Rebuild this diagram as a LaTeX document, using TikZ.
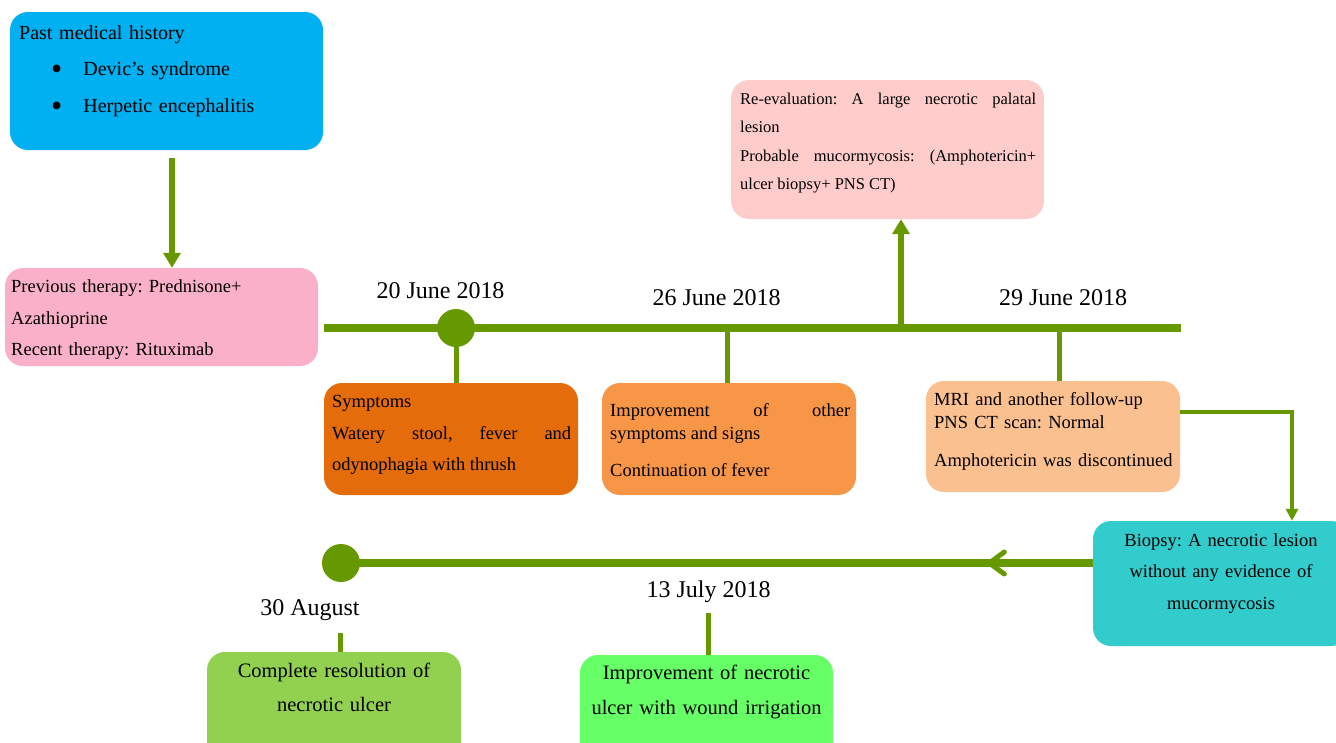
\documentclass[tikz,border=0pt]{standalone}
\usepackage{fontspec}
\setmainfont{Liberation Serif}
\usetikzlibrary{arrows.meta,positioning,decorations.markings}
\frenchspacing

\definecolor{tgreen}{RGB}{102,153,0}
\definecolor{histblue}{RGB}{0,176,240}
\definecolor{therpink}{RGB}{250,176,200}
\definecolor{sympor}{RGB}{228,108,10}
\definecolor{impror}{RGB}{247,150,70}
\definecolor{mripeach}{RGB}{250,192,144}
\definecolor{reevrose}{RGB}{255,204,204}
\definecolor{biopteal}{RGB}{51,204,204}
\definecolor{resolgreen}{RGB}{146,208,80}
\definecolor{necrgreen}{RGB}{102,255,102}

\newcommand{\bigbul}{\raisebox{-4pt}{\fontsize{32}{32}\selectfont\textbullet}}

\tikzset{
  box/.style={rounded corners=18pt, inner sep=0pt},
  txt/.style={inner sep=0pt, anchor=base west, align=left},
  ctxt/.style={inner sep=0pt, anchor=base, align=center},
  datelbl/.style={inner sep=0pt, anchor=base, font=\fontsize{24}{28}\selectfont},
  tline/.style={line width=8pt, tgreen},
  tick/.style={line width=5pt, tgreen},
  dot/.style={circle, fill=tgreen, minimum size=38pt, inner sep=0pt},
}

\begin{document}
\begin{tikzpicture}[x=1pt,y=-1pt]

\useasboundingbox (0,0) rectangle (1336,742);

% history and therapy
\node[box, fill=histblue, minimum width=313pt, minimum height=138pt] (hist) at (166.5,81) {};
\node[txt, text width=300pt, font=\fontsize{20}{36.3}\selectfont] (histtxt) at (19,39.5)
  {Past medical history\\
   \hspace*{32pt}\bigbul\hspace{21pt}Devic’s syndrome\\
   \hspace*{32pt}\bigbul\hspace{21pt}Herpetic encephalitis};

\node[box, fill=therpink, minimum width=313pt, minimum height=98pt] (prev) at (161.5,317) {};
\node[txt, text width=300pt, font=\fontsize{18.5}{31.6}\selectfont] (prevtxt) at (11,292.5)
  {Previous therapy: Prednisone+\\Azathioprine\\Recent therapy: Rituximab};

\coordinate (a1) at (172,158);
\draw[line width=6pt, tgreen, -{Triangle[length=15pt,width=17pt]}] (a1) -- (a1 |- prev.north);

% upper time line
\coordinate (t1a) at (324,328);
\coordinate (t1b) at (1181,328);
\draw[tline] (t1a) -- (t1b);
\node[dot] (d20) at (456,328) {};

\node[datelbl] (date20) at (440.5,298) {20 June 2018};
\node[datelbl] (date26) at (716.5,305) {26 June 2018};
\node[datelbl] (date29) at (1063,305) {29 June 2018};

% boxes under the upper line
\node[box, fill=sympor, minimum width=254pt, minimum height=112pt] (symp) at (451,439) {};
\node[txt, text width=239pt, align=justify, font=\fontsize{18.5}{31.7}\selectfont] (symptxt) at (332,407.5)
  {Symptoms\par Watery stool, fever and\linebreak odynophagia with thrush};

\node[box, fill=impror, minimum width=254pt, minimum height=112pt] (impr) at (729,439) {};
\node[txt, text width=240pt, align=justify, font=\fontsize{18.5}{23}\selectfont] (imprtxt) at (610,416)
  {Improvement of other\linebreak symptoms and signs\par\vspace{14pt}Continuation of fever};

\node[box, fill=mripeach, minimum width=254pt, minimum height=111pt] (mri) at (1053,436.5) {};
\node[txt, text width=240pt, font=\fontsize{18.5}{23.3}\selectfont] (mritxt) at (934,405)
  {MRI and another follow-up\\PNS CT scan: Normal\par\vspace{14.5pt}Amphotericin was discontinued};

\draw[tick] (d20) -- (d20 |- symp.north);
\coordinate (m26) at (727,328);
\draw[tick] (m26) -- (m26 |- impr.north);
\coordinate (m29) at (1059,324);
\draw[tick] (m29) -- (m29 |- mri.north);

% re-evaluation above the line
\node[box, fill=reevrose, minimum width=313pt, minimum height=139pt] (reev) at (887.5,149.5) {};
\node[txt, text width=296pt, align=justify, font=\fontsize{16.5}{28.5}\selectfont] (reevtxt) at (740,104)
  {Re-evaluation: A large necrotic palatal\linebreak lesion\par
   Probable mucormycosis: (Amphotericin+\linebreak ulcer biopsy+ PNS CT)};

\coordinate (m28) at (901,328);
\draw[tick, line width=6pt, -{Triangle[length=15pt,width=17pt]}] (m28) -- (m28 |- reev.south);

% biopsy
\node[box, fill=biopteal, minimum width=256pt, minimum height=125pt] (biop) at (1221,583.5) {};
\node[ctxt, text width=250pt, font=\fontsize{18.5}{31.5}\selectfont] (bioptxt) at (1221,546)
  {Biopsy: A necrotic lesion\\without any evidence of\\mucormycosis};

\draw[line width=3.5pt, tgreen, -{Triangle[length=12pt,width=12pt]}] (mri.east |- 0,412) -| (1292,0 |- biop.north);

% lower time line
\coordinate (endpt) at (341,563);
\draw[tline, decoration={markings, mark=at position 106pt with {\arrow{Straight Barb[length=15pt,width=22pt,line width=5pt,round]}}}, postaction={decorate}]
  (biop.west |- endpt) -- (endpt);
\node[dot] (dend) at (endpt) {};

\node[datelbl] (date30) at (310,615) {30 August};
\node[datelbl] (date13) at (708.5,597) {13 July 2018};

\node[box, fill=resolgreen, minimum width=254pt, minimum height=110pt] (resol) at (334,707) {};
\node[ctxt, text width=250pt, font=\fontsize{20.5}{34.4}\selectfont] (resoltxt) at (334,677.5)
  {Complete resolution of\\necrotic ulcer};

\node[box, fill=necrgreen, minimum width=253pt, minimum height=110pt] (necr) at (706.5,710) {};
\node[ctxt, text width=250pt, font=\fontsize{20.5}{35}\selectfont] (necrtxt) at (706.5,679.5)
  {Improvement of necrotic\\ulcer with wound irrigation};

\coordinate (r30) at (340,633);
\draw[tick] (r30) -- (r30 |- resol.north);
\coordinate (j13) at (708,613);
\draw[tick] (j13) -- (j13 |- necr.north);

\end{tikzpicture}
\end{document}
